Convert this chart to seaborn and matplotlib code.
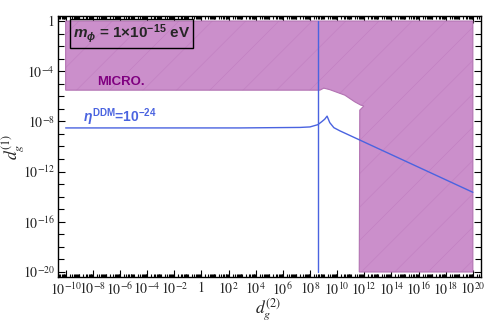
import numpy as np
import matplotlib
matplotlib.use("Agg")
import matplotlib.pyplot as plt
import matplotlib.ticker as mticker
import seaborn as sns

# exponents (log10)
# excluded region (MICRO.), traced clockwise from top-left
region_logx = [-10, 20, 20, 11.63, 11.67, 11.97, 11.74, 11.30, 10.57, 9.46, 9.02, 8.73, -10]
region_logy = [0, 0, -20, -20, -7.10, -6.77, -6.70, -6.44, -5.91, -5.47, -5.35, -5.51, -5.51]

# eta^DDM = 1e-24 curve
eta_logx = [-10, 2.85, 7.27, 8.0, 8.58, 8.87, 9.09, 9.26, 9.46, 9.76, 10.20, 15.0, 20.0]
eta_logy = [-8.52, -8.52, -8.48, -8.44, -8.26, -8.02, -7.82, -7.58, -8.10, -8.50, -8.75, -11.15, -13.65]

# vertical line
vline_logx = 8.58
vline_logy = [0, -20]

x_tick_exp = list(range(-10, 21, 2))
y_tick_exp = list(range(-20, 1, 4))

purple_fill = "#cb8fcb"
purple_edge = "#b272b2"
purple_mesh = "#bf7cbf"
blue = "#4a63e0"

sns.set_style("ticks")
plt.rcParams["mathtext.fontset"] = "custom"
plt.rcParams["mathtext.rm"] = "Liberation Sans:bold"
plt.rcParams["mathtext.it"] = "Liberation Sans:italic:bold"
plt.rcParams["mathtext.bf"] = "Liberation Sans:bold"
plt.rcParams["font.family"] = ["DejaVu Sans"]
plt.rcParams["hatch.linewidth"] = 0.35

fig = plt.figure(figsize=(4.86, 3.22), dpi=100)
ax = fig.add_axes([57.5 / 486, 1 - 277 / 322, 423.5 / 486, 261 / 322])

rx = 10.0 ** np.array(region_logx)
ry = 10.0 ** np.array(region_logy)
ax.fill(rx, ry, facecolor=purple_fill, edgecolor="none", zorder=1)
ax.fill(rx, ry, facecolor="none", edgecolor=purple_mesh, linewidth=0,
        hatch="/", zorder=1.5)
ax.fill(rx, ry, facecolor="none", edgecolor=purple_edge, linewidth=0.8, zorder=2)

eta = {"x": 10.0 ** np.array(eta_logx), "y": 10.0 ** np.array(eta_logy)}
sns.lineplot(x=eta["x"], y=eta["y"], ax=ax, color=blue, linewidth=1.0,
             sort=False, estimator=None, zorder=3)
ax.plot([10.0 ** vline_logx] * 2, 10.0 ** np.array(vline_logy), color=blue,
        linewidth=1.0, zorder=3)

ax.set_xscale("log")
ax.set_yscale("log")
ax.set_xlim(10 ** -10.6, 10 ** 20.6)
ax.set_ylim(10 ** -20.4, 10 ** 0.4)


def fmt(v, pos):
    k = int(round(np.log10(v)))
    return "1" if k == 0 else r"$10^{%d}$" % k


ax.set_xticks([10.0 ** k for k in x_tick_exp])
ax.set_yticks([10.0 ** k for k in y_tick_exp])
ax.xaxis.set_major_formatter(mticker.FuncFormatter(fmt))
ax.yaxis.set_major_formatter(mticker.FuncFormatter(fmt))
ax.xaxis.set_minor_locator(mticker.FixedLocator(
    [s * 10.0 ** k for k in range(-11, 21) for s in range(1, 10)]))
ax.yaxis.set_minor_locator(mticker.FixedLocator([10.0 ** k for k in range(-21, 1)]))
ax.yaxis.set_minor_formatter(mticker.NullFormatter())
ax.xaxis.set_minor_formatter(mticker.NullFormatter())

ax.tick_params(which="both", direction="in", top=True, right=True, width=0.8,
               color="black")
ax.tick_params(axis="x", which="major", length=5, pad=3)
ax.tick_params(axis="x", which="minor", length=2.2)
ax.tick_params(axis="y", which="major", length=5, pad=2)
ax.tick_params(axis="y", which="minor", length=4.5)
for lbl in ax.get_xticklabels() + ax.get_yticklabels():
    lbl.set_math_fontfamily("stix")
    lbl.set_fontsize(10)
    lbl.set_fontfamily("STIXGeneral")

for sp in ax.spines.values():
    sp.set_linewidth(1.0)
    sp.set_color("black")

fig.text(268 / 486, 1 - 309 / 322, r"$d_g^{(2)}$", fontsize=12.5,
         math_fontfamily="stix", ha="center", va="center")
fig.text(13 / 486, 1 - 147 / 322, r"$d_g^{(1)}$", fontsize=12.5, rotation=90,
         math_fontfamily="stix", ha="center", va="center")

ax.text(0.037, 0.933, r"$m_\phi$ = 1×10$^{-15}$ eV", transform=ax.transAxes,
        ha="left", va="center", fontsize=11, fontweight="bold",
        family="Liberation Sans", math_fontfamily="custom",
        bbox=dict(boxstyle="square,pad=0.2", facecolor="none",
                  edgecolor="black", linewidth=1.0), zorder=5)
ax.text(10 ** -5.93, 10 ** -4.87, "MICRO.", color="#800080", fontsize=9.5,
        fontweight="bold", family="Liberation Sans", ha="center", va="center",
        zorder=5)
ax.text(10 ** -6.0, 10 ** -7.66, r"$\eta^{\mathrm{DDM}}$=10$^{-24}$", color=blue,
        fontsize=10, fontweight="bold", family="Liberation Sans",
        math_fontfamily="custom", ha="center", va="center", zorder=5)

fig.savefig("out.png", dpi=100)
